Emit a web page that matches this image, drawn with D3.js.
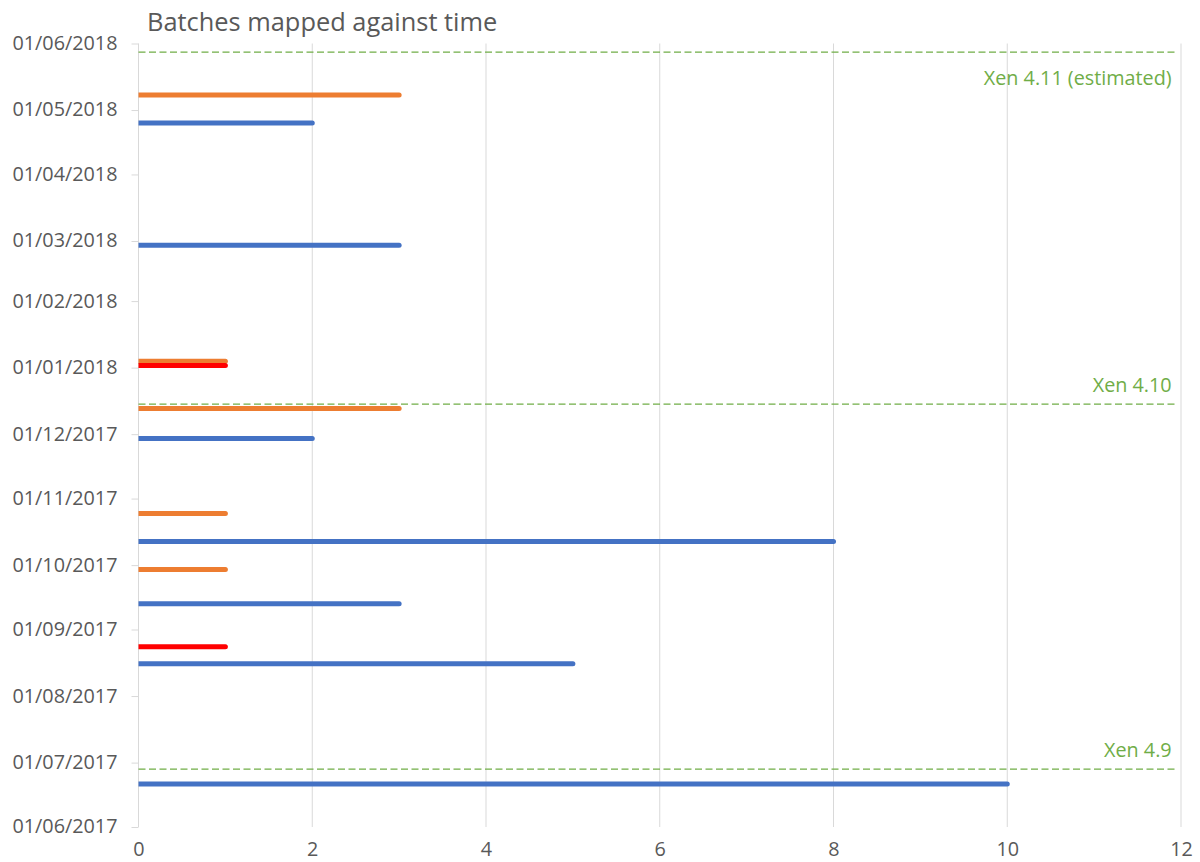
<!DOCTYPE html>
<html>
<head>
<meta charset="utf-8">
<script src="https://cdn.jsdelivr.net/npm/d3@7"></script>
<style>
  html, body { margin: 0; padding: 0; background: #fff; }
  svg text { font-family: "Open Sans", sans-serif; }
</style>
</head>
<body>
<svg id="chart" width="1200" height="862"></svg>
<script>
// Batch sizes by date, one list pair per series
const blueDates   = ["2017-06-21", "2017-08-16", "2017-09-13", "2017-10-12", "2017-11-29", "2018-02-27", "2018-04-25"];
const blueCounts  = [10, 5, 3, 8, 2, 3, 2];
const orangeDates  = ["2017-09-29", "2017-10-25", "2017-12-13", "2018-01-04", "2018-05-08"];
const orangeCounts = [1, 1, 3, 1, 3];
const redDates  = ["2017-08-24", "2018-01-02"];
const redCounts = [1, 1];

// Release markers
const releaseNames = ["Xen 4.9", "Xen 4.10", "Xen 4.11 (estimated)"];
const releaseDates = ["2017-06-28", "2017-12-15", "2018-05-28"];
const releaseExtent = 11.95;

// Axis ranges and ticks
const timeStart = "2017-06-01";
const timeEnd = "2018-06-01";
const countTicks = [0, 2, 4, 6, 8, 10, 12];
const title = "Batches mapped against time";

const parse = d3.utcParse("%Y-%m-%d");
const svg = d3.select("#chart");

const margin = { left: 138.5, right: 19, top: 43.5, bottom: 35 };
const W = 1200, H = 862;

const x = d3.scaleLinear().domain([0, 12]).range([margin.left, W - margin.right]);
const y = d3.scaleUtc().domain([parse(timeStart), parse(timeEnd)]).range([H - margin.bottom, margin.top]);

const grey = "#d9d9d9";
const textGrey = "#595959";
const labelSize = "19.8px";

// vertical gridlines
svg.append("g").selectAll("line")
  .data(countTicks.filter(d => d > 0))
  .join("line")
  .attr("x1", d => x(d)).attr("x2", d => x(d))
  .attr("y1", y.range()[1]).attr("y2", y.range()[0])
  .attr("stroke", grey).attr("stroke-width", 1);

// y axis (monthly ticks)
const yAxis = d3.axisLeft(y)
  .ticks(d3.utcMonth.every(1))
  .tickFormat(d3.utcFormat("%d/%m/%Y"))
  .tickSize(7)
  .tickPadding(14);
const gy = svg.append("g").attr("transform", `translate(${margin.left},0)`).call(yAxis);
gy.select(".domain").attr("stroke", grey).attr("d", `M0,${y.range()[0]}V${y.range()[1]}`);
gy.selectAll(".tick line").attr("stroke", grey);
gy.selectAll(".tick text")
  .attr("fill", textGrey)
  .style("font-size", labelSize)
  .attr("dy", "0.3em");

// x axis (labels only)
const xAxis = d3.axisBottom(x).tickValues(countTicks).tickSize(0).tickPadding(15);
const gx = svg.append("g").attr("transform", `translate(0,${y.range()[0]})`).call(xAxis);
gx.select(".domain").remove();
gx.selectAll(".tick text")
  .attr("fill", textGrey)
  .style("font-size", labelSize);

// title
svg.append("text")
  .attr("x", 147).attr("y", 31)
  .attr("fill", textGrey)
  .style("font-size", "25.4px")
  .text(title);

// release lines + labels
const green = "#70ad47";
const releases = releaseNames.map((n, i) => ({ name: n, date: parse(releaseDates[i]) }));
const rel = svg.append("g");
rel.selectAll("line")
  .data(releases)
  .join("line")
  .attr("x1", x(0)).attr("x2", x(releaseExtent))
  .attr("y1", d => y(d.date)).attr("y2", d => y(d.date))
  .attr("stroke", green).attr("stroke-width", 1.2)
  .attr("stroke-dasharray", "7,3.5");
rel.selectAll("text")
  .data(releases)
  .join("text")
  .attr("x", x(releaseExtent) - 5)
  .attr("y", d => {
    const yy = y(d.date);
    return (yy - margin.top < 30) ? yy + 33 : yy - 12;
  })
  .attr("text-anchor", "end")
  .attr("fill", green)
  .style("font-size", labelSize)
  .text(d => d.name);

// batch lines, clipped so the rounded cap only shows at the value end
svg.append("clipPath").attr("id", "plotClip")
  .append("rect")
  .attr("x", x(0)).attr("y", 0)
  .attr("width", W - x(0)).attr("height", H);

const series = [
  { color: "#ed7d31", dates: orangeDates, counts: orangeCounts },
  { color: "#ff0000", dates: redDates, counts: redCounts },
  { color: "#4472c4", dates: blueDates, counts: blueCounts }
];
const bars = svg.append("g").attr("clip-path", "url(#plotClip)");
series.forEach(s => {
  const pts = s.dates.map((d, i) => ({ date: parse(d), value: s.counts[i] }));
  bars.append("g").selectAll("line")
    .data(pts)
    .join("line")
    .attr("x1", x(0) - 4).attr("x2", d => x(d.value))
    .attr("y1", d => y(d.date)).attr("y2", d => y(d.date))
    .attr("stroke", s.color)
    .attr("stroke-width", 5)
    .attr("stroke-linecap", "round");
});
</script>
</body>
</html>
